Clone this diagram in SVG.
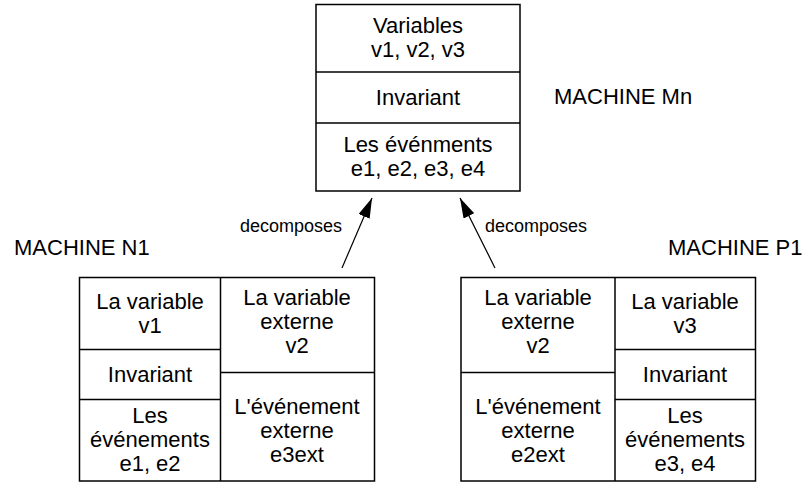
<svg xmlns="http://www.w3.org/2000/svg" width="805" height="483" viewBox="0 0 805 483">
<defs>
<style>
.b{fill:#fff;stroke:#000;stroke-width:1.5}
.l{stroke:#000;stroke-width:1.5;fill:none}
text{font-family:"Liberation Sans",Arial,sans-serif;font-size:22px;fill:#000}
.c{text-anchor:middle}
.s{font-size:18px}
.e{stroke:#000;stroke-width:1.2;fill:none}
</style>
<marker id="ah" viewBox="0 0 20 12" refX="20" refY="6" markerWidth="20" markerHeight="12" markerUnits="userSpaceOnUse" orient="auto">
<path d="M0,0 L20,6 L0,12 Z" fill="#000"/>
</marker>
</defs>
<g id="machine-mn">
<rect class="b" x="316" y="4.5" width="204" height="186.5"/>
<line class="l" x1="316" y1="72" x2="520" y2="72"/>
<line class="l" x1="316" y1="123" x2="520" y2="123"/>
<text class="c" x="418" y="33">Variables</text>
<text class="c" x="418" y="57">v1, v2, v3</text>
<text class="c" x="418" y="105">Invariant</text>
<text class="c" x="418" y="152">Les événments</text>
<text class="c" x="418" y="176">e1, e2, e3, e4</text>
<text x="554" y="104">MACHINE Mn</text>
</g>
<g id="machine-n1">
<rect class="b" x="79.5" y="277.5" width="295" height="203.5"/>
<line class="l" x1="220.5" y1="277.5" x2="220.5" y2="481"/>
<line class="l" x1="79.5" y1="349.5" x2="220.5" y2="349.5"/>
<line class="l" x1="79.5" y1="399.5" x2="220.5" y2="399.5"/>
<line class="l" x1="220.5" y1="372.5" x2="374.5" y2="372.5"/>
<text class="c" x="150" y="309">La variable</text>
<text class="c" x="150" y="333">v1</text>
<text class="c" x="150" y="382">Invariant</text>
<text class="c" x="150" y="423">Les</text>
<text class="c" x="150" y="447">événements</text>
<text class="c" x="150" y="471">e1, e2</text>
<text class="c" x="297" y="305">La variable</text>
<text class="c" x="297" y="329">externe</text>
<text class="c" x="297" y="353">v2</text>
<text class="c" x="297" y="414">L'événement</text>
<text class="c" x="297" y="438">externe</text>
<text class="c" x="297" y="462">e3ext</text>
<text x="14" y="255">MACHINE N1</text>
</g>
<g id="machine-p1">
<rect class="b" x="461" y="277.5" width="294.5" height="203.5"/>
<line class="l" x1="615" y1="277.5" x2="615" y2="481"/>
<line class="l" x1="461" y1="372.5" x2="615" y2="372.5"/>
<line class="l" x1="615" y1="349.5" x2="755.5" y2="349.5"/>
<line class="l" x1="615" y1="399.5" x2="755.5" y2="399.5"/>
<text class="c" x="538" y="305">La variable</text>
<text class="c" x="538" y="329">externe</text>
<text class="c" x="538" y="353">v2</text>
<text class="c" x="538" y="414">L'événement</text>
<text class="c" x="538" y="438">externe</text>
<text class="c" x="538" y="462">e2ext</text>
<text class="c" x="685" y="309">La variable</text>
<text class="c" x="685" y="333">v3</text>
<text class="c" x="685" y="382">Invariant</text>
<text class="c" x="685" y="423">Les</text>
<text class="c" x="685" y="447">événements</text>
<text class="c" x="685" y="471">e3, e4</text>
<text x="668" y="255">MACHINE P1</text>
</g>
<g id="connectors">
<line class="e" x1="342" y1="268" x2="372" y2="198" marker-end="url(#ah)"/>
<line class="e" x1="495" y1="268" x2="460" y2="198" marker-end="url(#ah)"/>
<text class="s" x="240" y="232">decomposes</text>
<text class="s" x="485" y="232">decomposes</text>
</g>
</svg>
